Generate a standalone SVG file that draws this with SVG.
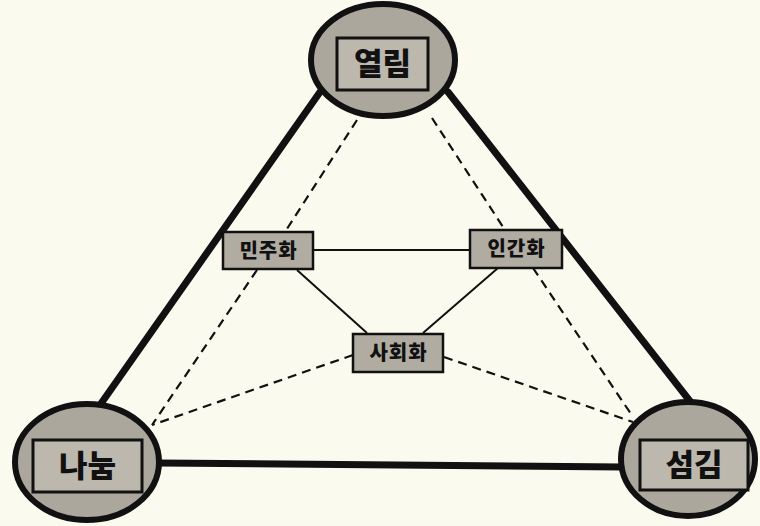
<svg xmlns="http://www.w3.org/2000/svg" width="760" height="526" viewBox="0 0 760 526">
<style>
.bg{fill:#fbfaef}
.circ{fill:#aba79d;stroke:#111;stroke-width:6}
.lab{fill:#bcb8ad;stroke:#111;stroke-width:3}
.box{fill:#b0aca2;stroke:#111;stroke-width:2.5}
.big{font-family:"Noto Sans CJK KR","Noto Sans",sans-serif;font-weight:900;font-size:31px;fill:#111;text-anchor:middle}
.sm{font-family:"Noto Sans CJK KR","Noto Sans",sans-serif;font-weight:900;font-size:20px;letter-spacing:1px;fill:#111;text-anchor:middle}
.thick{stroke:#111;stroke-width:7;fill:none;stroke-linecap:round}
.thin{stroke:#111;stroke-width:2;fill:none}
.dash{stroke:#111;stroke-width:2.2;fill:none;stroke-dasharray:9,6}
</style>
<rect class="bg" x="0" y="0" width="760" height="526"/>
<g id="connectors">
<line class="thick" x1="320" y1="92" x2="100" y2="405"/>
<line class="thick" x1="448" y1="92" x2="693" y2="405"/>
<line class="thick" x1="158" y1="463" x2="622" y2="467"/>
<line class="dash" x1="357" y1="120" x2="285" y2="232"/>
<line class="dash" x1="257" y1="270" x2="152" y2="425"/>
<line class="dash" x1="432" y1="118" x2="505" y2="230"/>
<line class="dash" x1="533" y1="268" x2="633" y2="417"/>
<line class="dash" x1="353" y1="355" x2="152" y2="425"/>
<line class="dash" x1="444" y1="357" x2="633" y2="422"/>
<line class="thin" x1="313" y1="250" x2="470" y2="250"/>
<line class="thin" x1="297" y1="270" x2="367" y2="333"/>
<line class="thin" x1="498" y1="268" x2="423" y2="333"/>
</g>
<g id="node-yeollim">
<ellipse class="circ" cx="383" cy="60" rx="72" ry="56"/>
<rect class="lab" x="337" y="38" width="91" height="52"/>
<text class="big" x="382.5" y="75">열림</text>
</g>
<g id="node-nanum">
<ellipse class="circ" cx="87" cy="462" rx="72" ry="58"/>
<rect class="lab" x="33" y="440" width="109" height="52"/>
<text class="big" x="87.5" y="477">나눔</text>
</g>
<g id="node-seomgim">
<ellipse class="circ" cx="688" cy="459" rx="67" ry="57"/>
<rect class="lab" x="640" y="440" width="108" height="50"/>
<text class="big" x="694" y="476">섬김</text>
</g>
<g id="node-minjuhwa">
<rect class="box" x="223" y="232" width="90" height="37"/>
<text class="sm" x="268.5" y="258">민주화</text>
</g>
<g id="node-inganhwa">
<rect class="box" x="470" y="230" width="92" height="38"/>
<text class="sm" x="516.5" y="256">인간화</text>
</g>
<g id="node-sahoehwa">
<rect class="box" x="353" y="334" width="90" height="38"/>
<text class="sm" x="398.5" y="360">사회화</text>
</g>
</svg>
